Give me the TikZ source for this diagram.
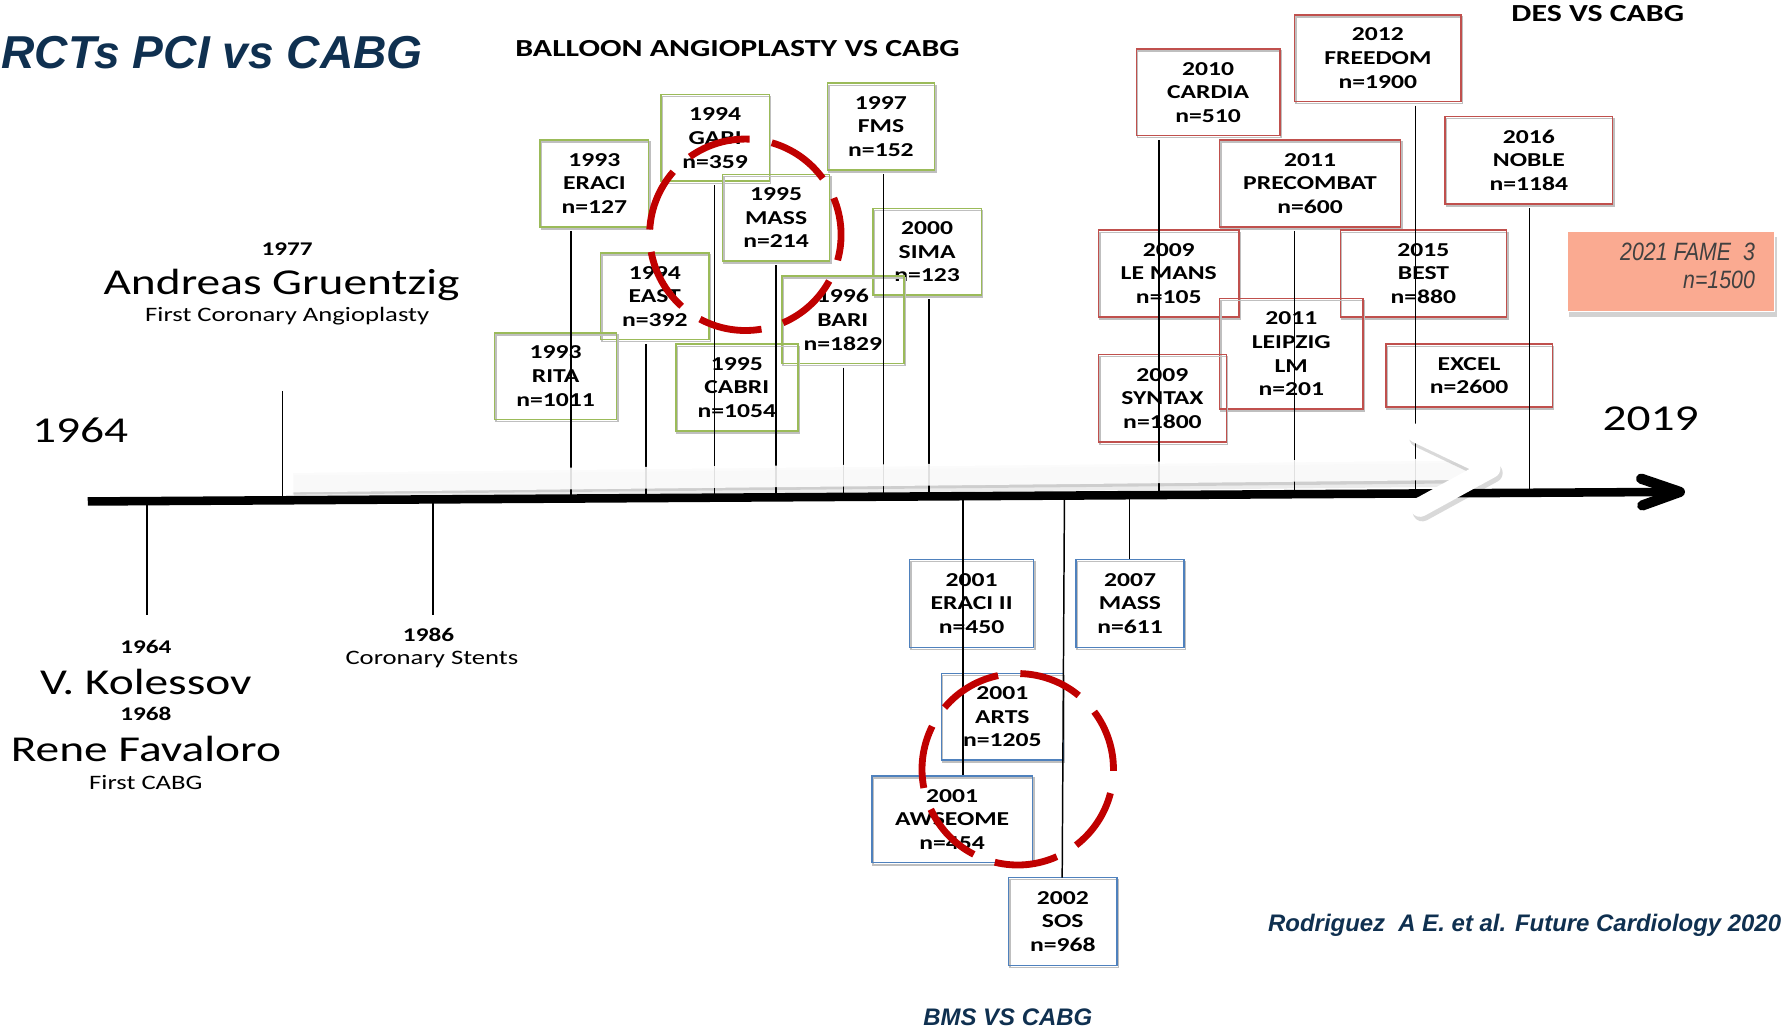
\documentclass[tikz,border=0pt]{standalone}
\usepackage{fontspec}
\setmainfont{Carlito}[FakeStretch=1.3]
\newfontfamily\arialf{Liberation Sans}
\newfontfamily\famef{Liberation Sans}[FakeStretch=0.85]
\usetikzlibrary{calc,shadows}
\definecolor{navy}{RGB}{15,48,80}
\definecolor{gborder}{RGB}{155,187,89}
\definecolor{rborder}{RGB}{192,80,77}
\definecolor{bborder}{RGB}{79,129,189}
\definecolor{circred}{RGB}{192,0,0}
\definecolor{salmon}{RGB}{250,170,145}
\definecolor{famegray}{RGB}{64,64,64}
\begin{document}
\begin{tikzpicture}[x=1pt,y=-1pt,
  trial/.style={draw, line width=1.3pt, inner sep=0pt, align=center,
    font=\fontsize{17.3}{20.8}\selectfont\bfseries,
    preaction={draw=black!25, line width=1.3pt, transform canvas={xshift=1.2pt,yshift=-1.8pt}}},
  gbox/.style={trial, draw=gborder},
  bbox/.style={trial, draw=bborder},
  rbox/.style={trial, draw=rborder},
  wh/.style 2 args={minimum width=#1pt, minimum height=#2pt},
  tick/.style={line width=1.3pt, black},
  btick/.style={tick, shorten <=3pt},
  lbl/.style={inner sep=0pt, anchor=base},
  bigname/.style={lbl, font=\fontsize{32}{38}\selectfont},
  smallyear/.style={lbl, font=\fontsize{17}{20}\selectfont\bfseries},
  subtxt/.style={lbl, font=\fontsize{18}{22}\selectfont},
  header/.style={inner sep=0pt, anchor=base west, font=\fontsize{21.5}{26}\selectfont\bfseries},
  navytxt/.style={inner sep=0pt, text=navy, font=\arialf\bfseries\itshape\fontsize{21}{25}\selectfont},
  dashcirc/.style={circred, line width=6pt},
  fametext/.style={inner sep=0pt, anchor=base east, text=famegray, font=\famef\itshape\fontsize{22}{26}\selectfont}
]
\useasboundingbox (0,0) rectangle (1568,906);

% ---------- texts ----------
\node[inner sep=0pt, anchor=base west, text=navy, font=\arialf\bfseries\itshape\fontsize{40.5}{48}\selectfont] (title) at (1,60) {RCTs PCI vs CABG};
\node[header] (balloon) at (452,50) {BALLOON ANGIOPLASTY VS CABG};
\node[header] (des) at (1326,19) {DES VS CABG};
\node[navytxt, anchor=base west] (bms) at (810,900) {BMS VS CABG};
\node[navytxt, anchor=base east] (ref) at (1563,817) {Rodriguez\ \ A E. et al. Future Cardiology 2020};

\node[inner sep=0pt, anchor=base west, font=\fontsize{32}{38}\selectfont] (y1964) at (28,388) {1964};
\node[inner sep=0pt, anchor=base west, font=\fontsize{32}{38}\selectfont] (y2019) at (1406,378) {2019};

\node[smallyear] (g1977) at (252,224) {1977};
\node[bigname] (gruentzig) at (247,258) {Andreas Gruentzig};
\node[subtxt] (gfirst) at (252,282) {First Coronary Angioplasty};

\node[smallyear] (k1964) at (128,573) {1964};
\node[bigname] (kolessov) at (128,609) {V. Kolessov};
\node[smallyear] (f1968) at (128,632) {1968};
\node[bigname] (favaloro) at (128,668) {Rene Favaloro};
\node[subtxt] (ffirst) at (128,693) {First CABG};

\node[smallyear] (s1986) at (376,563) {1986};
\node[subtxt] (stents) at (379,583) {Coronary Stents};

% ---------- green boxes ----------
\node[gbox, wh={95}{76}] (eraci) at (521.5,161) {1993\\ERACI\\n=127};
\node[gbox, wh={95}{76}] (gabi) at (627.5,121) {1994\\GABI\\n=359};
\node[gbox, wh={94}{76}] (mass95) at (681,191) {1995\\MASS\\n=214};
\node[gbox, wh={94}{76}] (fms) at (773,111) {1997\\FMS\\n=152};
\node[gbox, wh={95}{76}] (sima) at (813.5,221) {2000\\SIMA\\n=123};
\node[gbox, wh={95}{76}] (east) at (574.5,260) {1994\\EAST\\n=392};
\node[gbox, wh={107}{77}] (bari) at (739.5,280.5) {1996\\BARI\\n=1829};
\node[gbox, wh={107}{76}] (rita) at (487.5,330) {1993\\RITA\\n=1011};
\node[gbox, wh={107}{76}] (cabri) at (646.5,340) {1995\\CABRI\\n=1054};

% ---------- blue boxes ----------
\node[bbox, wh={109}{77}] (eraciii) at (852.5,529.5) {2001\\ERACI II\\n=450};
\node[bbox, wh={95}{77}] (mass07) at (991.5,529.5) {2007\\MASS\\n=611};
\node[bbox, wh={107}{76}] (arts) at (879.5,629) {2001\\ARTS\\n=1205};
\node[bbox, wh={141}{76}] (awseome) at (835.5,719) {2001\\AWSEOME\\n=454};
\node[bbox, wh={95}{77}] (sos) at (932.5,808.5) {2002\\SOS\\n=968};

% ---------- red boxes ----------
\node[rbox, wh={126}{76}] (cardia) at (1060,81) {2010\\CARDIA\\n=510};
\node[rbox, wh={146}{76}] (freedom) at (1209,51) {2012\\FREEDOM\\n=1900};
\node[rbox, wh={159}{76}] (precombat) at (1149.5,161) {2011\\PRECOMBAT\\n=600};
\node[rbox, wh={147}{77}] (noble) at (1341.5,140.5) {2016\\NOBLE\\n=1184};
\node[rbox, wh={123}{76}] (lemans) at (1025.5,240) {2009\\LE MANS\\n=105};
\node[rbox, wh={146}{76}] (best) at (1249,240) {2015\\BEST\\n=880};
\node[rbox, wh={126}{97}] (leipzig) at (1133,310.5) {2011\\LEIPZIG\\LM\\n=201};
\node[rbox, wh={112}{77}] (syntax) at (1020,349.5) {2009\\SYNTAX\\n=1800};
\node[rbox, wh={146}{55}] (excel) at (1289,329.5) {EXCEL\\n=2600};

% ---------- FAME box ----------
\node[fill=salmon, draw=white, line width=1pt, minimum width=182pt, minimum height=70pt, inner sep=0pt,
      drop shadow={shadow xshift=2pt, shadow yshift=-5pt, fill=black!35, opacity=0.5}] (fame) at (1466,238) {};
\node[fametext] (fame1) at (1540,229) {2021 FAME\ \ 3};
\node[fametext] (fame2) at (1540,253) {n=1500};

% ---------- axis coordinates ----------
\coordinate (axL) at (77,440);
\coordinate (axR) at (1474,431.6);
\coordinate (t1977top) at (248,343);
\coordinate (t1977) at (248,439);
\coordinate (t1964) at (129,439.7);
\coordinate (t1964b) at (129,540);
\coordinate (t1986) at (380,438.2);
\coordinate (t1986b) at (380,540);
\coordinate (aEraci) at (501,437.5);
\coordinate (aEast) at (567,437.1);
\coordinate (aGabi) at (627,436.7);
\coordinate (aMass) at (681,436.4);
\coordinate (aBari) at (740,436.0);
\coordinate (aFms) at (775,435.8);
\coordinate (aSima) at (815,435.6);
\coordinate (aEraciII) at (845,435.4);
\coordinate (aSos) at (934,434.9);
\coordinate (aSosB) at (932,770);
\coordinate (aMass07) at (991,434.5);
\coordinate (aCardia) at (1017,434.4);
\coordinate (aPrecombat) at (1136,433.6);
\coordinate (aFreedom) at (1242,433.0);
\coordinate (aNoble) at (1342,432.4);

% ---------- ticks ----------
\draw[tick] (t1977top) -- (t1977);
\draw[tick] (t1964) -- (t1964b);
\draw[tick] (t1986) -- (t1986b);
\draw[btick] (eraci.south -| aEraci) -- (aEraci);
\draw[btick] (east.south -| aEast) -- (aEast);
\draw[btick] (gabi.south -| aGabi) -- (aGabi);
\draw[btick] (mass95.south -| aMass) -- (aMass);
\draw[btick] (bari.south -| aBari) -- (aBari);
\draw[btick] (fms.south -| aFms) -- (aFms);
\draw[btick] (sima.south -| aSima) -- (aSima);
\draw[btick] (cardia.south -| aCardia) -- (aCardia);
\draw[btick] (precombat.south -| aPrecombat) -- (aPrecombat);
\draw[btick] (freedom.south -| aFreedom) -- (aFreedom);
\draw[btick] (noble.south -| aNoble) -- (aNoble);
\draw[tick] (aEraciII) -- (awseome.north -| aEraciII);
\draw[tick] (aMass07) -- (mass07.north -| aMass07);
\draw[tick] (aSos) -- (aSosB);

% ---------- main axis ----------
\draw[line width=7.5pt] (axL) -- (axR);
\draw[line width=9pt, line cap=round, line join=round] (1440,420) -- (axR) -- (1441,443.5);

% ---------- white arrow with shadow ----------
\fill[black, opacity=0.08] (258,417) -- (1298,406) -- (1298,427) -- (258,437) -- cycle;
\fill[black, opacity=0.12] (257,415) -- (1297,404) -- (1297,424) -- (257,434) -- cycle;
\fill[white, opacity=0.88] (255,413) -- (1295,402) -- (1295,421) -- (255,432) -- cycle;
\draw[black, opacity=0.15, line width=17pt, line cap=round, line join=round] (1245,384) -- (1310,415) -- (1248,449);
\draw[white, line width=17pt, line cap=round, line join=round] (1243,380) -- (1308,411) -- (1246,445);

% ---------- red dashed circles ----------
\coordinate (c1) at (654,206);
\coordinate (c2) at (893,675);
\foreach \s in {36,87.43,138.86,190.29,241.71,293.14,344.57}
  \draw[dashcirc] (c1) ++({-\s}:84) arc[start angle={-\s}, end angle={-\s-38}, radius=84];
\foreach \s in {-1,50.43,101.86,153.29,204.71,256.14,307.57}
  \draw[dashcirc] (c2) ++({-\s}:84) arc[start angle={-\s}, end angle={-\s-38}, radius=84];
\end{tikzpicture}
\end{document}
